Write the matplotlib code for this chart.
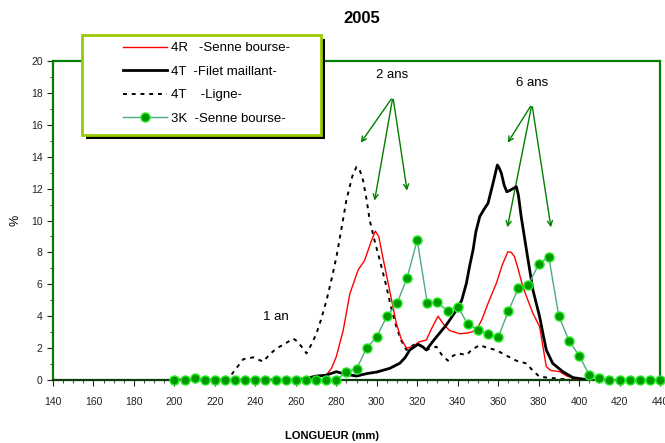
import numpy as np
import matplotlib
matplotlib.use("Agg")
import matplotlib.pyplot as plt
from matplotlib.ticker import MultipleLocator
from matplotlib.patches import Rectangle

plt.rcParams['font.family'] = ['Liberation Sans Narrow', 'Liberation Sans', 'DejaVu Sans']

# ---- data ----
r4_x = [200, 260, 265, 270, 275, 277.6, 280, 283.4, 286.7, 290.8, 294, 297, 299.3, 301, 303, 306.4, 309.7,
        312, 314.7, 318, 321, 324.5, 327, 330.3, 333, 336, 341, 345, 349.2, 352, 355, 359.1, 362, 364.8,
        366.5, 368.1, 370, 372.2, 375, 377.2, 380.5, 382, 383.8, 386, 390.4, 394, 398.6, 402]
r4_y = [0, 0, 0.05, 0.15, 0.3, 0.73, 1.46, 3.1, 5.4, 6.9, 7.5, 8.6, 9.34, 9.0, 7.7, 5.6, 3.55,
        2.6, 2.0, 2.1, 2.4, 2.5, 3.2, 4.0, 3.5, 3.1, 2.9, 2.95, 3.1, 3.8, 4.8, 6.06, 7.2, 8.04,
        8.0, 7.73, 6.9, 5.85, 4.9, 4.18, 3.34, 2.2, 0.84, 0.6, 0.52, 0.25, 0.04, 0]

t4f_x = [200, 260, 265, 270.2, 275, 280, 285, 290, 295, 300, 306.4, 311.4, 314, 316.3, 320.4, 322.5, 324.5,
         327, 329.5, 334.4, 339.4, 342, 344.3, 346, 347.6, 349, 350.9, 353, 355, 357.4, 359.6, 360.5,
         361.6, 363, 364.3, 366, 369, 370, 371.4, 374, 377.2, 380.5, 382, 383.8, 387, 392, 397, 405]
t4f_y = [0, 0, 0.1, 0.25, 0.3, 0.52, 0.35, 0.25, 0.4, 0.5, 0.73, 1.05, 1.4, 1.88, 2.24, 2.1, 1.88,
         2.3, 2.7, 3.45, 4.39, 5.0, 6.06, 7.2, 8.15, 9.3, 10.24, 10.7, 11.08, 12.3, 13.48, 13.3,
         12.96, 12.2, 11.8, 11.9, 12.12, 11.6, 10.24, 8.15, 5.64, 3.97, 3.0, 1.88, 1.04, 0.52, 0.15, 0]

t4l_x = [225, 227.4, 231, 234, 238.9, 243.9, 247, 250.5, 255, 258.7, 261, 265.3, 268, 270.2, 272.5, 275.2,
         278, 280.1, 283, 285, 288, 290, 291.5, 293.2, 295, 296.5, 299, 301.5, 304.8, 307, 309.7, 312,
         314.7, 317, 319.6, 322, 324.5, 327, 329.5, 332, 335.2, 337.5, 340.1, 344.3, 347, 350.9, 355,
         359.1, 363, 369, 374, 377, 380.5, 388.7, 393, 396]
t4l_y = [0, 0.2, 0.8, 1.3, 1.42, 1.15, 1.6, 1.98, 2.3, 2.6, 2.4, 1.67, 2.3, 2.92, 3.8, 5.0,
         6.5, 7.73, 9.8, 11.28, 12.8, 13.37, 13.2, 12.54, 11.3, 10.03, 8.7, 7.52, 5.85, 4.6, 3.34, 2.5,
         1.88, 2.1, 2.3, 2.1, 1.88, 2.0, 2.09, 1.6, 1.21, 1.5, 1.67, 1.57, 1.9, 2.19, 2.0,
         1.88, 1.6, 1.21, 1.04, 0.6, 0.2, 0.1, 0.05, 0]

k3_x = list(range(200, 445, 5))
k3_y = [0, 0, 0.15, 0, 0, 0, 0, 0, 0, 0, 0, 0, 0, 0, 0, 0, 0,
        0.5, 0.69, 2.0, 2.7, 4.0, 4.8, 6.4, 8.78, 4.8, 4.9, 4.3, 4.6, 3.5, 3.15, 2.86, 2.67,
        4.3, 5.77, 5.98, 7.25, 7.73, 4.0, 2.47, 1.53, 0.33, 0.15, 0, 0, 0, 0, 0, 0]

labels = ["4R   -Senne bourse-", "4T  -Filet maillant-", "4T    -Ligne-", "3K  -Senne bourse-"]

# ---- figure ----
W, H = 665, 443
fig = plt.figure(figsize=(6.65, 4.43), dpi=100)
ax = fig.add_axes([0.0797, 0.1422, 0.9128, 0.7201])

GREEN = '#007F00'
ax.plot(r4_x, r4_y, color='#FF0000', lw=1.0, label=labels[0], zorder=3)
ax.plot(t4f_x, t4f_y, color='black', lw=2.0, label=labels[1], zorder=4)
ax.plot(t4l_x, t4l_y, color='black', lw=1.4, linestyle=(0, (2.0, 2.5)), label=labels[2], zorder=2)
ax.plot(k3_x, k3_y, color='#4DAA7F', lw=1.0, marker='o', markersize=6.5,
        markerfacecolor='#009900', markeredgecolor='#22EE22', markeredgewidth=1.0,
        label=labels[3], zorder=5, clip_on=False)

ax.set_xlim(140, 440)
ax.set_ylim(0, 20)
ax.xaxis.set_major_locator(MultipleLocator(20))
ax.xaxis.set_minor_locator(MultipleLocator(5))
ax.yaxis.set_major_locator(MultipleLocator(2))
ax.yaxis.set_minor_locator(MultipleLocator(1))
ax.tick_params(which='major', direction='out', length=4, width=0.8, labelsize=7.5, colors='#222222')
ax.tick_params(which='minor', direction='out', length=2, width=0.6, colors='#222222')
ax.tick_params(axis='x', pad=8)

for s in ['left', 'top', 'right']:
    ax.spines[s].set_color(GREEN)
    ax.spines[s].set_linewidth(1.6)
ax.spines['bottom'].set_color('#0A3F0A')
ax.spines['bottom'].set_linewidth(1.6)

# annotations
arrow_kw = dict(arrowstyle='->', color=GREEN, lw=1.0, mutation_scale=9)
ax.text(307.4, 19.1, "2 ans", ha='center', va='center', fontsize=9.5)
for tip in [(291.3, 14.73), (298.7, 11.08), (315.2, 11.7)]:
    ax.annotate("", xy=tip, xytext=(308.0, 17.76), arrowprops=arrow_kw)
ax.text(377, 18.6, "6 ans", ha='center', va='center', fontsize=9.5)
for tip in [(364.0, 14.73), (364.3, 9.4), (386.3, 9.4)]:
    ax.annotate("", xy=tip, xytext=(376.7, 17.3), arrowprops=arrow_kw)
ax.text(250.1, 3.95, "1 an", ha='center', va='center', fontsize=9.5)

# legend box (frame drawn separately, with shadow)
x0, x1, y0, y1 = 82, 321, 35, 135
shadow = Rectangle((x0 + 4, H - y1 - 4), x1 - x0, y1 - y0, transform=None,
                   facecolor='black', edgecolor='none', zorder=8)
frame = Rectangle((x0, H - y1), x1 - x0, y1 - y0, transform=None,
                  facecolor='white', edgecolor='#99CC00', linewidth=2.0, zorder=9)
fig.patches.extend([shadow, frame])

leg = fig.legend(*ax.get_legend_handles_labels(), loc='upper left',
                 bbox_to_anchor=(123 / W, 1 - 42 / H), frameon=False,
                 fontsize=9.5, handlelength=3.3, borderaxespad=0, labelspacing=0.85,
                 handletextpad=0.35, borderpad=0)
leg.set_zorder(10)

fig.text(0.544, 0.958, "2005", ha='center', va='center', fontsize=12, fontweight='bold')
fig.text(0.499, 0.016, "LONGUEUR (mm)", ha='center', va='center', fontsize=8, fontweight='bold')
fig.text(0.023, 0.503, "%", ha='center', va='center', fontsize=9, rotation=90)

fig.savefig("out.png", dpi=100)
